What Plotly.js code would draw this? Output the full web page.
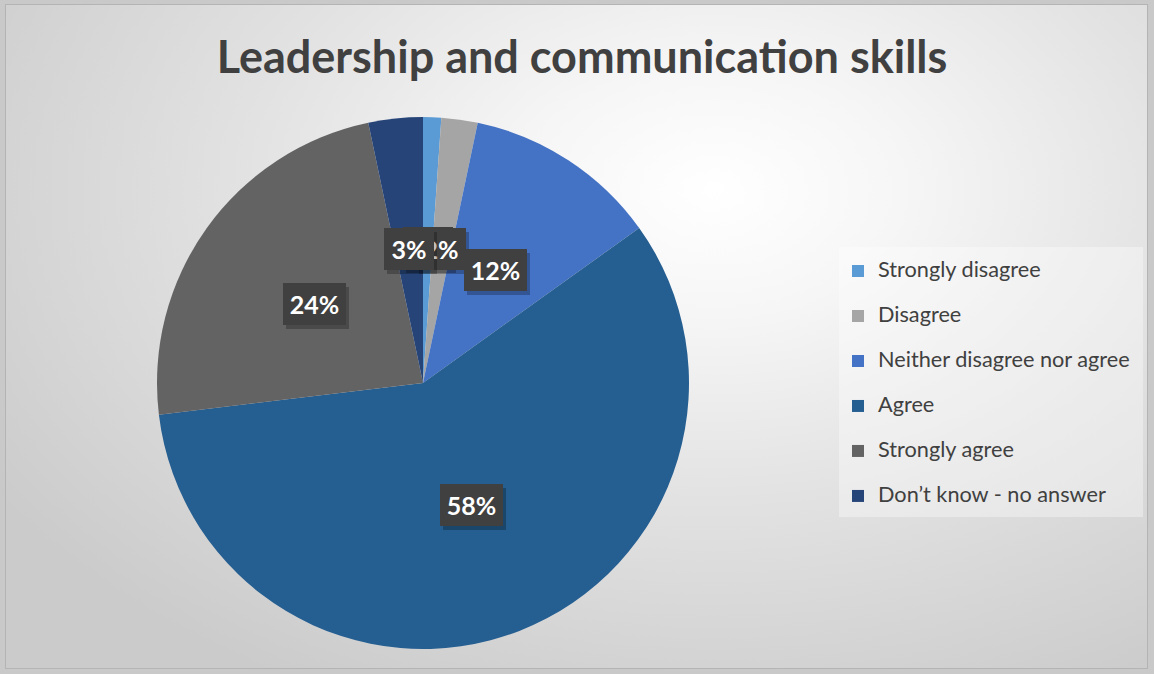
<!DOCTYPE html>
<html>
<head>
<meta charset="utf-8">
<script src="https://cdn.plot.ly/plotly-3.0.1.min.js"></script>
<style>
  html, body { margin: 0; padding: 0; background: #c9c9c9; }
  #frame {
    position: absolute; left: 0; top: 0; width: 1154px; height: 674px;
    background: #c9c9c9;
  }
  #chart {
    position: absolute; left: 5px; top: 4px; width: 1143px; height: 665px;
    box-sizing: border-box;
    border: 1px solid #b4b4b4;
    background: radial-gradient(ellipse 75% 85% at 62% 28%, #ffffff 0%, #f6f6f6 22%, #e2e2e2 55%, #cbcbcb 100%);
  }
  #plot { position: absolute; left: 0; top: 0; width: 1154px; height: 674px; }
</style>
</head>
<body>
<div id="frame"><div id="chart"></div><div id="plot"></div></div>
<script>
// ---- data ----
const categories = ['Strongly disagree', 'Disagree', 'Neither disagree nor agree', 'Agree', 'Strongly agree', 'Don\u2019t know - no answer'];
const values = [1.1, 2.2, 11.8, 58.0, 23.6, 3.3];
const sliceColors = ['#5B9BD5', '#A5A5A5', '#4472C4', '#255E91', '#636363', '#264478'];
const chartTitle = 'Leadership and communication skills';

// ---- geometry of the chart (pixels) ----
const W = 1154, H = 674;
const cx = 423, cy = 383, R = 266;
const labelFrac = 0.5;

const total = values.reduce((a, b) => a + b, 0);
const pctText = values.map(v => Math.round(v / total * 100) + '%');

// legend labels: larger text on the first line, spacer line for item spacing
const legendLabels = categories.map(c => '<span style="font-size:21.7px">' + c + '</span><br>\u00a0');

const trace = {
  type: 'pie',
  labels: legendLabels,
  values: values,
  sort: false,
  direction: 'clockwise',
  rotation: 0,
  textinfo: 'none',
  hoverinfo: 'skip',
  marker: { colors: sliceColors, line: { width: 0 } },
  domain: { x: [(cx - R) / W, (cx + R) / W], y: [1 - (cy + R) / H, 1 - (cy - R) / H] }
};

// data labels placed at mid-angle of each slice
const annotations = [];
let cum = 0;
values.forEach((v, i) => {
  const mid = (cum + v / 2) / total * 2 * Math.PI;
  cum += v;
  const px = cx + labelFrac * R * Math.sin(mid);
  const py = cy - labelFrac * R * Math.cos(mid);
  const boxW = 13 * pctText[i].length + 24;
  const base = {
    x: px / W, y: 1 - py / H, xref: 'paper', yref: 'paper',
    xanchor: 'center', yanchor: 'middle', showarrow: false,
    text: pctText[i], borderpad: 0, borderwidth: 0,
    width: boxW, height: 42, align: 'center', valign: 'middle',
    font: { family: 'Lato, "Open Sans", sans-serif', size: 25, weight: 700 }
  };
  annotations.push(Object.assign({}, base, {
    bgcolor: 'rgba(0,0,0,0.25)', xshift: 3, yshift: -2,
    font: Object.assign({}, base.font, { color: 'rgba(0,0,0,0)' })
  }));
  annotations.push(Object.assign({}, base, {
    bgcolor: '#404040', yshift: 2,
    font: Object.assign({}, base.font, { color: '#ffffff' })
  }));
});

const layout = {
  width: W, height: H,
  margin: { l: 0, r: 0, t: 0, b: 0 },
  paper_bgcolor: 'rgba(0,0,0,0)',
  plot_bgcolor: 'rgba(0,0,0,0)',
  title: {
    text: chartTitle,
    x: 582 / W, xanchor: 'center',
    y: 1 - 57 / H, yanchor: 'middle',
    font: { family: 'Lato, "Open Sans", sans-serif', size: 45, weight: 700, color: '#404040' }
  },
  showlegend: true,
  legend: {
    x: 838 / W, xanchor: 'left',
    y: 1 - 254 / H, yanchor: 'top',
    bgcolor: 'rgba(0,0,0,0)',
    borderwidth: 0,
    valign: 'top',
    font: { family: 'Lato, "Open Sans", sans-serif', size: 16.15, color: '#404040' }
  },
  shapes: [{
    type: 'rect', xref: 'paper', yref: 'paper', layer: 'below',
    x0: 839 / W, x1: 1143 / W, y0: 1 - 517 / H, y1: 1 - 247 / H,
    fillcolor: 'rgba(255,255,255,0.35)', line: { width: 0 }
  }],
  annotations: annotations
};

Plotly.newPlot('plot', [trace], layout, { displayModeBar: false, staticPlot: true });
</script>
</body>
</html>
